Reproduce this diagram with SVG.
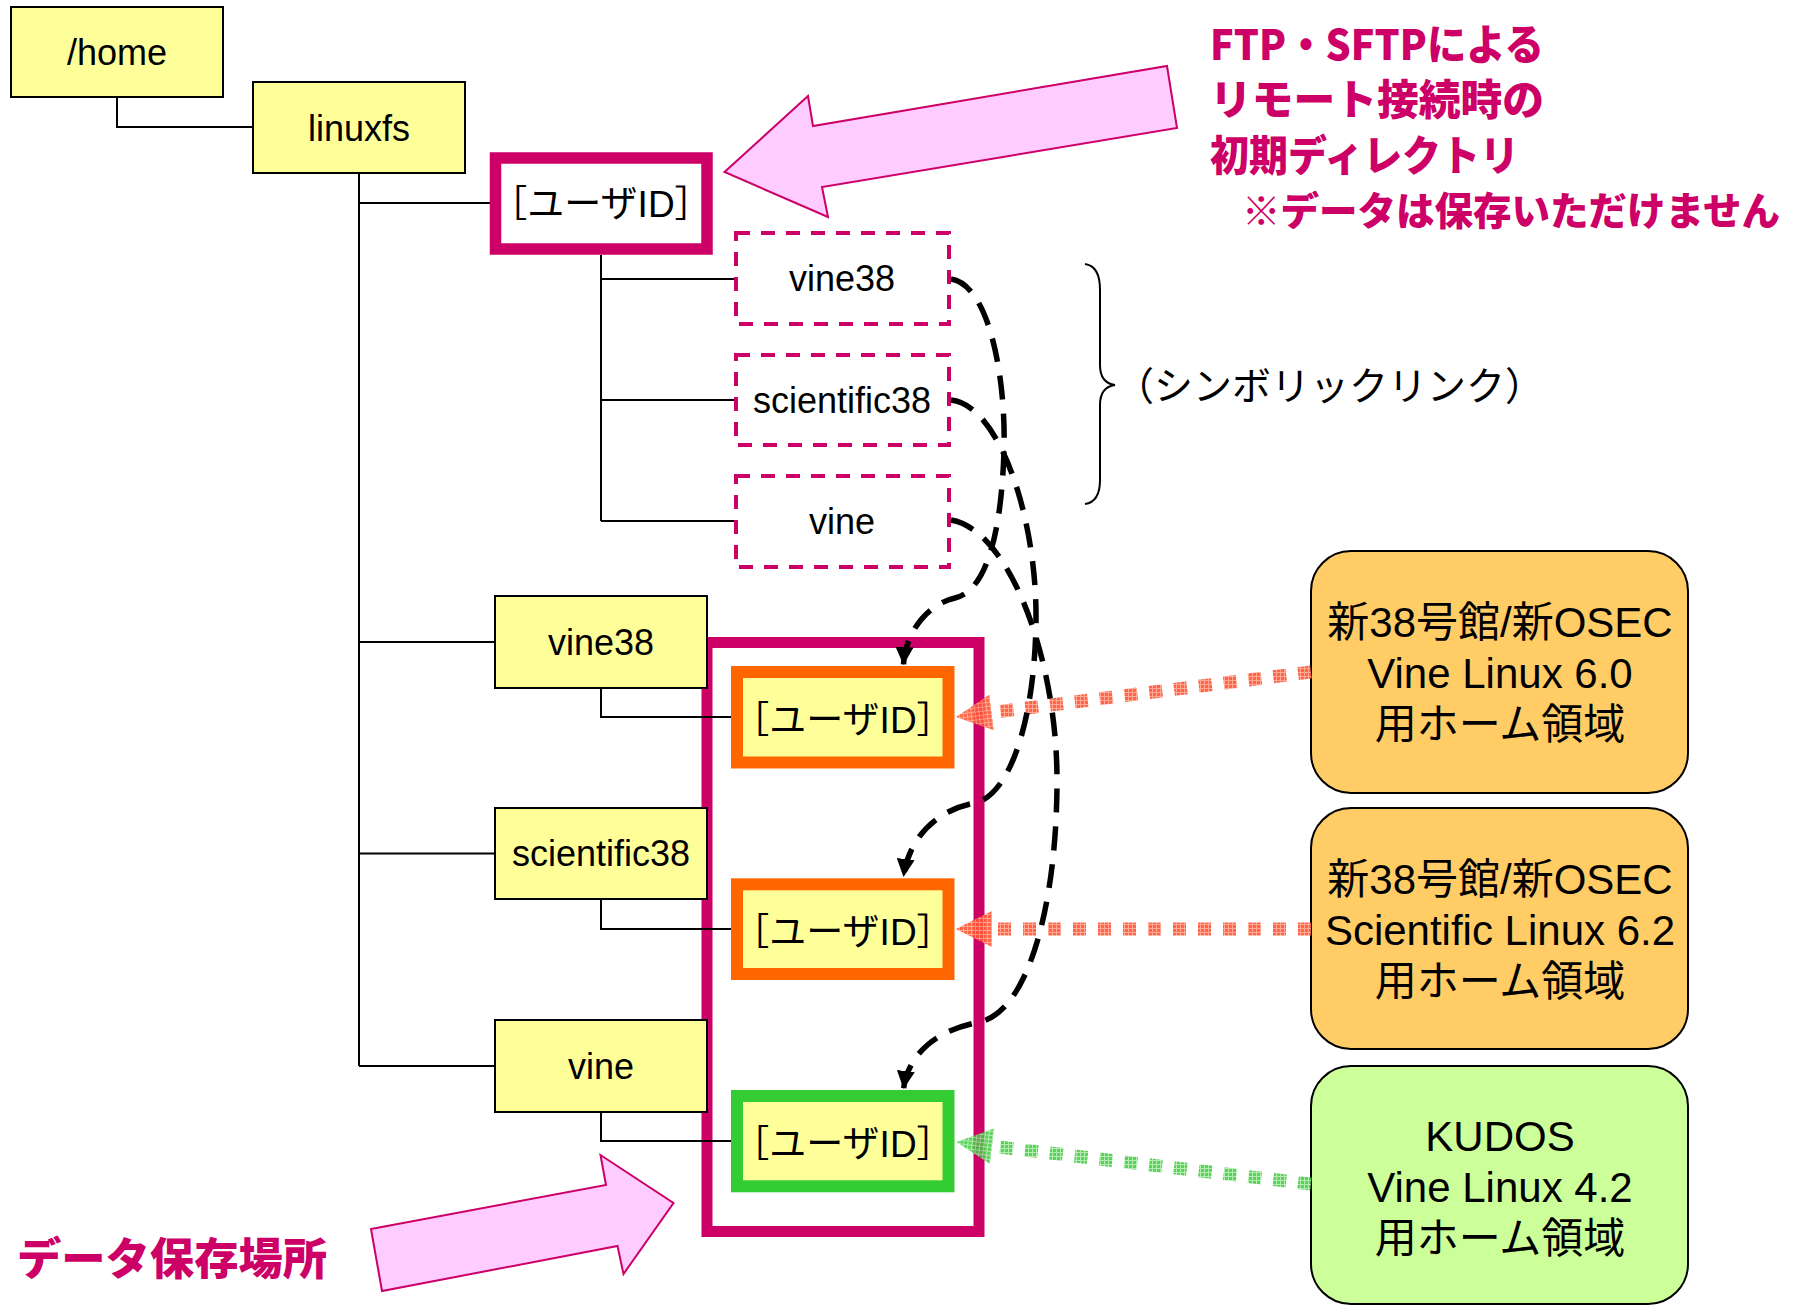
<svg xmlns="http://www.w3.org/2000/svg" width="1796" height="1306" viewBox="0 0 1796 1306">
<style>
.ybox{fill:#FFFF99;stroke:#000;stroke-width:2}
.lbl{font-family:'Liberation Sans',Arial,'Noto Sans CJK JP',sans-serif;font-size:36px;fill:#000;text-anchor:middle}
.uid{font-size:37px}
.rlbl{font-family:'Liberation Sans',Arial,'Noto Sans CJK JP',sans-serif;font-size:42px;fill:#000;text-anchor:middle}
.dbox{fill:#fff;stroke:#CC0066;stroke-width:4;stroke-dasharray:14 11}
.tree{fill:none;stroke:#000;stroke-width:2}
.link{fill:none;stroke:#000;stroke-width:5.5;stroke-dasharray:24 14}
.head{font-family:'Noto Sans CJK JP',sans-serif;font-weight:900;fill:#CC0066}
.pink{fill:#FFCCFF;stroke:#CC0066;stroke-width:2}
</style>
<defs>
<pattern id="hatchR" width="4" height="4" patternUnits="userSpaceOnUse"><rect width="4" height="4" fill="#FF5533"/><path d="M0,0.5H4M0.5,0V4" stroke="#FF9F8A" stroke-width="1"/></pattern>
<pattern id="hatchG" width="4" height="4" patternUnits="userSpaceOnUse"><rect width="4" height="4" fill="#3FCC3F"/><path d="M0,0.5H4M0.5,0V4" stroke="#A6E8A6" stroke-width="1"/></pattern>
<marker id="ah" markerUnits="userSpaceOnUse" viewBox="0 0 18 18" markerWidth="18" markerHeight="18" refX="18" refY="9" orient="auto"><path d="M0,0L18,9L0,18z" fill="#000"/></marker>
<marker id="ahR" markerUnits="userSpaceOnUse" viewBox="0 0 36 36" markerWidth="36" markerHeight="36" refX="0" refY="18" orient="auto"><path d="M0,0L36,18L0,36z" fill="url(#hatchR)"/></marker>
<marker id="ahG" markerUnits="userSpaceOnUse" viewBox="0 0 36 36" markerWidth="36" markerHeight="36" refX="0" refY="18" orient="auto"><path d="M0,0L36,18L0,36z" fill="url(#hatchG)"/></marker>
</defs>
<rect width="1796" height="1306" fill="#fff"/>

<g id="storage-frame"><rect x="707" y="642.5" width="272" height="589" fill="none" stroke="#CC0066" stroke-width="11"/></g>

<g id="tree-connectors">
<path class="tree" d="M117,97V127H253"/>
<path class="tree" d="M359,173V1066M359,203H490M359,642H495M359,853.5H495M359,1066H495"/>
<path class="tree" d="M601,255V521M601,279H736M601,400H736M601,521H736"/>
<path class="tree" d="M601,688V717H731M601,899V929H731M601,1112V1141H731"/>
</g>

<g id="node-home"><rect class="ybox" x="11" y="7" width="212" height="90"/><text class="lbl" x="117" y="65">/home</text></g>
<g id="node-linuxfs"><rect class="ybox" x="253" y="82" width="212" height="91"/><text class="lbl" x="359" y="141">linuxfs</text></g>
<g id="node-userid-top"><rect x="495.5" y="158" width="211.5" height="91" fill="#fff" stroke="#CC0066" stroke-width="11.5"/><text class="lbl uid" x="601" y="217">［ユーザID］</text></g>

<g id="node-link-vine38"><rect class="dbox" x="736" y="233" width="213" height="91"/><text class="lbl" x="842" y="291">vine38</text></g>
<g id="node-link-scientific38"><rect class="dbox" x="736" y="355" width="213" height="90"/><text class="lbl" x="842" y="413">scientific38</text></g>
<g id="node-link-vine"><rect class="dbox" x="736" y="476" width="213" height="91"/><text class="lbl" x="842" y="534">vine</text></g>

<g id="node-vine38"><rect class="ybox" x="495" y="596" width="212" height="92"/><text class="lbl" x="601" y="655">vine38</text></g>
<g id="node-scientific38"><rect class="ybox" x="495" y="808" width="212" height="91"/><text class="lbl" x="601" y="866">scientific38</text></g>
<g id="node-vine"><rect class="ybox" x="495" y="1020" width="212" height="92"/><text class="lbl" x="601" y="1079">vine</text></g>

<g id="node-userid-vine38"><rect x="737" y="672" width="211.5" height="90.5" fill="#FFFF99" stroke="#FF6600" stroke-width="12"/><text class="lbl uid" x="843" y="733">［ユーザID］</text></g>
<g id="node-userid-scientific38"><rect x="737" y="884.3" width="211.5" height="89.7" fill="#FFFF99" stroke="#FF6600" stroke-width="12"/><text class="lbl uid" x="843" y="945">［ユーザID］</text></g>
<g id="node-userid-vine"><rect x="737" y="1096" width="211.5" height="90.3" fill="#FFFF99" stroke="#33CC33" stroke-width="12"/><text class="lbl uid" x="843" y="1157">［ユーザID］</text></g>

<g id="node-osec-vine"><rect x="1311" y="551" width="377" height="242" rx="40" ry="40" fill="#FFCC66" stroke="#000" stroke-width="2"/>
<text class="rlbl" x="1500" y="637">新38号館/新OSEC</text><text class="rlbl" x="1500" y="688">Vine Linux 6.0</text><text class="rlbl" x="1500" y="739">用ホーム領域</text></g>
<g id="node-osec-scientific"><rect x="1311" y="808" width="377" height="241" rx="40" ry="40" fill="#FFCC66" stroke="#000" stroke-width="2"/>
<text class="rlbl" x="1500" y="894">新38号館/新OSEC</text><text class="rlbl" x="1500" y="945">Scientific Linux 6.2</text><text class="rlbl" x="1500" y="996">用ホーム領域</text></g>
<g id="node-kudos"><rect x="1311" y="1066" width="377" height="238" rx="40" ry="40" fill="#CCFF99" stroke="#000" stroke-width="2"/>
<text class="rlbl" x="1500" y="1151">KUDOS</text><text class="rlbl" x="1500" y="1202">Vine Linux 4.2</text><text class="rlbl" x="1500" y="1253">用ホーム領域</text></g>

<g id="connectors">
<path d="M1311,672L991.7,712.5" fill="none" stroke="url(#hatchR)" stroke-width="13" stroke-dasharray="13 12" marker-end="url(#ahR)" opacity="0.9"/>
<path d="M1311,929L992,929" fill="none" stroke="url(#hatchR)" stroke-width="13" stroke-dasharray="13 12" marker-end="url(#ahR)" opacity="0.9"/>
<path d="M1311,1184L992.2,1146.2" fill="none" stroke="url(#hatchG)" stroke-width="13" stroke-dasharray="13 12" marker-end="url(#ahG)" opacity="0.85"/>
<path class="link" d="M951,279C990,285 1006,380 1004,450C1002,520 990,590 955,598C925,605 905,635 903.5,665" marker-end="url(#ah)"/>
<path class="link" d="M951,400C1000,405 1037,520 1036,620C1035,720 1010,795 975,803C935,810 908,840 903.5,877" marker-end="url(#ah)"/>
<path class="link" d="M951,520C1010,530 1057,660 1057,780C1057,900 1030,1010 980,1022C935,1030 908,1055 903.5,1089" marker-end="url(#ah)"/>
</g>

<g id="symlink-brace">
<path d="M1085,264Q1100,266 1100,290V365Q1100,383 1115,385Q1100,387 1100,405V480Q1100,502 1085,504" fill="none" stroke="#000" stroke-width="2"/>
<text x="1115" y="400" font-family="'Noto Sans CJK JP',sans-serif" font-size="39" fill="#000">（シンボリックリンク）</text>
</g>

<g id="note-ftp">
<polygon class="pink" points="724.5,172 808,96 813,126 1167,66 1177,128 822,187 828,217"/>
<text class="head" x="1210" y="60" font-size="42" textLength="334" lengthAdjust="spacingAndGlyphs">FTP・SFTPによる</text>
<text class="head" x="1210" y="115" font-size="42" textLength="334" lengthAdjust="spacingAndGlyphs">リモート接続時の</text>
<text class="head" x="1210" y="171" font-size="42" textLength="309" lengthAdjust="spacingAndGlyphs">初期ディレクトリ</text>
<text class="head" x="1242" y="225" font-size="39" textLength="538" lengthAdjust="spacingAndGlyphs">※データは保存いただけません</text>
</g>

<g id="note-storage">
<polygon class="pink" points="371,1229 606,1185 600.5,1155 673.5,1203 623.5,1274 617.5,1246 382,1291"/>
<text class="head" x="17" y="1275" font-size="44" textLength="310" lengthAdjust="spacingAndGlyphs">データ保存場所</text>
</g>
</svg>
